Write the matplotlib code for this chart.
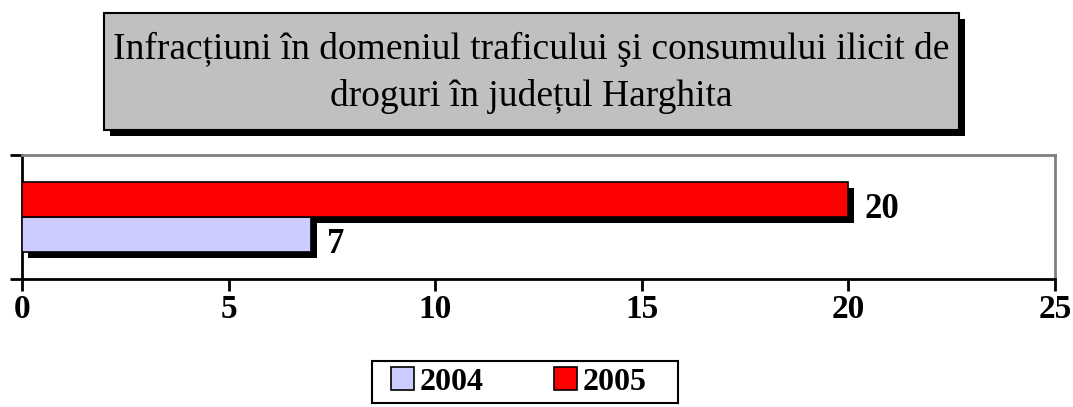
import matplotlib.pyplot as plt
from matplotlib.patches import Rectangle, Patch
from matplotlib.transforms import ScaledTranslation

# date
years = ["2004", "2005"]
values = [7, 20]
colors = ["#CCCCFF", "#FF0000"]
title = "Infracțiuni în domeniul traficului şi consumului ilicit de\ndroguri în județul Harghita"
xticks = [0, 5, 10, 15, 20, 25]

plt.rcParams["font.family"] = ["Liberation Serif", "DejaVu Serif"]

W, H = 1073, 407
fig = plt.figure(figsize=(W / 100, H / 100), dpi=100)

# plot area
ax = fig.add_axes([22 / W, 1 - 279 / H, (1055 - 22) / W, (279 - 155) / H])
ax.set_xlim(0, 25)
ax.set_ylim(-0.5, 0.5)

bar_h = 0.282
pos = [-bar_h / 2, bar_h / 2]
shadow = ax.transData + ScaledTranslation(6 / 100, -6 / 100, fig.dpi_scale_trans)

for p, v, c in zip(pos, values, colors):
    ax.barh(p, v, height=bar_h, color="black", transform=shadow, zorder=2)
for p, v, c in zip(pos, values, colors):
    ax.barh(p, v, height=bar_h, color=c, edgecolor="black", linewidth=1.2, zorder=3)
    ax.annotate(str(v), xy=(v, p), xytext=(16, -10), textcoords="offset pixels",
                ha="left", va="center", fontsize=25, fontweight="bold", zorder=4)

ax.set_xticks(xticks)
ax.set_xticklabels([str(t) for t in xticks], fontsize=24, fontweight="bold")
ax.set_yticks([-0.5, 0.5])
ax.set_yticklabels([])
ax.tick_params(axis="both", direction="out", width=2, length=8.5, color="black")
ax.tick_params(axis="x", pad=2)
for s in ["left", "bottom"]:
    ax.spines[s].set_color("black")
    ax.spines[s].set_linewidth(2)
for s in ["top", "right"]:
    ax.spines[s].set_color("#808080")
    ax.spines[s].set_linewidth(2)

# titlu cu umbra
bx0, bx1, by0, by1 = 104, 959, 13, 130
fig.patches.append(Rectangle(((bx0 + 6) / W, 1 - (by1 + 6) / H), (bx1 - bx0) / W, (by1 - by0) / H,
                             transform=fig.transFigure, facecolor="black", edgecolor="none", zorder=1))
fig.patches.append(Rectangle((bx0 / W, 1 - by1 / H), (bx1 - bx0) / W, (by1 - by0) / H,
                             transform=fig.transFigure, facecolor="#C0C0C0", edgecolor="black",
                             linewidth=1.5, zorder=2))
fig.text((bx0 + bx1) / 2 / W, 1 - 73 / H, title, ha="center", va="center", fontsize=27,
         linespacing=1.45, zorder=3)

# legenda (cadru desenat separat)
lx0, lx1, ly0, ly1 = 372, 678, 361, 403
fig.patches.append(Rectangle((lx0 / W, 1 - ly1 / H), (lx1 - lx0) / W, (ly1 - ly0) / H,
                             transform=fig.transFigure, facecolor="white", edgecolor="black",
                             linewidth=1.5, zorder=1))
handles = [Patch(facecolor=c, edgecolor="black", linewidth=1.2) for c in colors]
leg = fig.legend(handles, years, loc="center", bbox_to_anchor=(519 / W, 1 - 382 / H), ncol=2,
                 prop={"weight": "bold", "size": 23}, frameon=False,
                 handlelength=0.7, handleheight=0.7, handletextpad=0.2,
                 columnspacing=2.2, borderpad=0.2)
leg.set_zorder(3)

fig.savefig("out.png", dpi=100)
